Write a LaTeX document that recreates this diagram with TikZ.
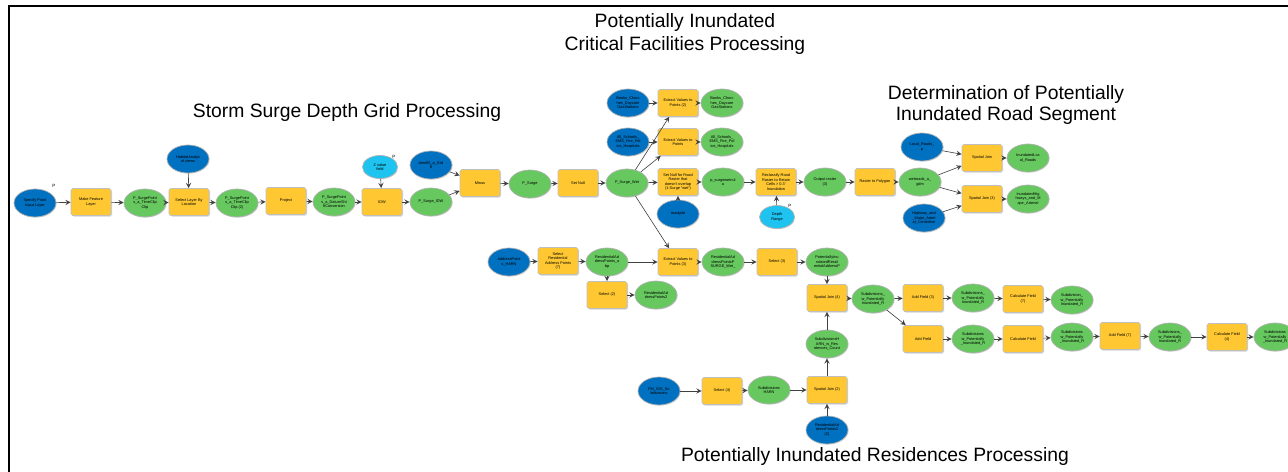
\documentclass[tikz,border=0pt]{standalone}
\usepackage{fontspec}
\setmainfont{Liberation Sans}
\usepackage{tikz}
\usetikzlibrary{shapes.geometric,shadows,positioning}
\definecolor{inblue}{RGB}{0,112,192}
\definecolor{parblue}{RGB}{30,195,240}
\definecolor{outgreen}{RGB}{102,200,95}
\definecolor{toolyellow}{RGB}{255,200,50}

\begin{document}
\begin{tikzpicture}[x=0.02cm,y=-0.02cm]
          \tikzstyle{tool} = [rectangle, rounded corners=1pt, draw=black!25, fill=toolyellow, minimum width=0.8cm, minimum height=0.54cm, inner sep=0.5pt, align=center, font=\fontsize{2.2}{2.6}\selectfont, drop shadow={shadow xshift=0.6pt, shadow yshift=-0.6pt, fill=black!35}]
          \tikzstyle{outdata} = [ellipse, draw=black!30, fill=outgreen, minimum width=0.84cm, minimum height=0.56cm, inner sep=0pt, align=center, font=\fontsize{2.2}{2.6}\selectfont, drop shadow={shadow xshift=0.4pt, shadow yshift=-0.4pt, fill=black!25}]
          \tikzstyle{indata} = [outdata, fill=inblue]
          \tikzstyle{pardata} = [outdata, fill=parblue, minimum width=0.7cm, minimum height=0.46cm]
          \tikzstyle{pmark} = [font=\fontsize{2.6}{3}\selectfont, inner sep=0pt]
          \tikzstyle{title} = [align=center, font=\fontsize{11}{13}\selectfont]
          \tikzstyle{flow} = [->, >=stealth, draw=black!75, line width=0.35pt]
        \useasboundingbox (0,0) rectangle (1288,472);
        \draw[line width=1.4pt] (9,472) -- (9,6) -- (1288,6);
        % titles
        \node[title] (t1) at (685,34) {Potentially Inundated\\Critical Facilities Processing};
        \node[title] (t2) at (347,113) {Storm Surge Depth Grid Processing};
        \node[title, font=\fontsize{11}{12}\selectfont] (t3) at (1006,105) {Determination of Potentially\\Inundated Road Segment};
        \node[title] (t4) at (875,457) {Potentially Inundated Residences Processing};
        % storm surge depth grid
        \node[indata] (a1) at (35,203) {Specify Point\\Input Layer};
        \node[pmark] (p1) at (54,186) {P};
        \node[tool] (a2) at (91,202) {Make Feature\\Layer};
        \node[outdata] (a3) at (145,203) {P\_SurgePoint\\s\_a\_TimeClip\\Clip};
        \node[indata] (a4) at (188,159) {HabitatAnalys\\of.views};
        \node[tool] (a5) at (189,202) {Select Layer By\\Location};
        \node[outdata] (a6) at (237,203) {P\_SurgePoint\\s\_a\_TimeClip\\Clip (2)};
        \node[tool] (a7) at (286,201) {Project};
        \node[outdata] (a8) at (334,202) {P\_SurgePoint\\s\_a\_DatumShi\\ftConversion};
        \node[pardata] (a9) at (380,167) {Z value\\field};
        \node[pmark] (p2) at (394,157) {P};
        \node[tool] (a10) at (382,202) {IDW};
        \node[outdata] (a11) at (431,202) {P\_Surge\_IDW};
        \node[indata] (a12) at (431,165) {dem05\_a\_Grd\\8};
        \node[tool] (a13) at (480,183) {Minus};
        \node[outdata] (a14) at (530,184) {P\_Surge};
        \node[tool] (a15) at (578,183) {Set Null};
        \node[outdata] (a16) at (627,183) {P\_Surge\_Wet};
        % critical facilities
        \node[indata] (b1) at (628,103) {Banks\_Churc\\hes\_Daycare\\GasStations};
        \node[tool] (b2) at (678,103) {Extract Values to\\Points (2)};
        \node[outdata] (b3) at (722,103) {Banks\_Churc\\hes\_Daycare\\GasStations};
        \node[indata] (b4) at (628,142) {All\_Schools\_\\EMS\_Fire\_Pol\\ice\_Hospitals};
        \node[tool] (b5) at (678,142) {Extract Values to\\Points};
        \node[outdata] (b6) at (722,142) {All\_Schools\_\\EMS\_Fire\_Pol\\ice\_Hospitals};
        % road segments
        \node[tool] (c1) at (678,182) {Set Null for Road\\Raster that\\doesn't overlap\\(1-Surge ``wet'')};
        \node[indata] (c2) at (678,214) {roadgrid};
        \node[outdata] (c3) at (723,182) {p\_surgewetnul\\a};
        \node[tool] (c4) at (776,182) {Reclassify Road\\Raster to Retain\\Cells > 0.3'\\Inundation};
        \node[pardata] (c5) at (777,217) {Depth\\Range};
        \node[pmark] (p3) at (790,206) {P};
        \node[outdata] (c6) at (825,182) {Output raster\\(3)};
        \node[tool] (c7) at (875,182) {Raster to Polygon};
        \node[outdata] (c8) at (920,182) {wetroads\_a\_\\gdm};
        \node[indata] (c9) at (922,147) {Local\_Roads\_\\p};
        \node[tool] (c10) at (982,158) {Spatial Join};
        \node[outdata] (c11) at (1028,158) {InundatedLoc\\al\_Roads};
        \node[indata] (c12) at (924,218) {Highway\_and\\\_Major\_Arteri\\al\_Centerline};
        \node[tool] (c13) at (982,199) {Spatial Join (3)};
        \node[outdata] (c14) at (1028,199) {InundatedHig\\hways\_and\_M\\ajor\_Arterial};
        % residences
        \node[indata] (d1) at (509,262) {AddressPoint\\s\_HARN};
        \node[tool] (d2) at (558,261) {Select\\Residential\\Address Points\\(7)};
        \node[outdata] (d3) at (607,262) {ResidentialAd\\dressPoints\_a\\bp};
        \node[tool] (d4) at (607,295) {Select (2)};
        \node[outdata] (d5) at (656,295) {ResidentialAd\\dressPoints2};
        \node[tool] (d6) at (678,262) {Extract Values to\\Points (3)};
        \node[outdata] (d7) at (723,262) {ResidentialAd\\dressPointsP\\SURGE\_Wet\_};
        \node[tool] (d8) at (777,262) {Select (3)};
        \node[outdata] (d9) at (827,262) {PotentiallyInu\\ndatedResid\\entialAddressP};
        \node[tool] (d10) at (827,298) {Spatial Join (4)};
        \node[outdata] (d11) at (873,299) {Subdivisions\_\\w\_Potentially\\Inundated\_R};
        \node[tool] (d12) at (923,298) {Add Field (3)};
        \node[outdata] (d13) at (973,298) {Subdivisions\_\\w\_Potentially\\Inundated\_R};
        \node[tool] (d14) at (1023,299) {Calculate Field\\(7)};
        \node[outdata] (d15) at (1072,300) {Subdivision\_\\w\_Potentially\\Inundated\_R};
        \node[tool] (d16) at (923,339) {Add Field};
        \node[outdata] (d17) at (973,339) {Subdivisions\\w\_Potentially\\\_Inundated\_R};
        \node[tool] (d18) at (1023,339) {Calculate Field};
        \node[outdata] (d19) at (1072,337) {Subdivisions\\w\_Potentially\\\_Inundated\_R};
        \node[tool] (d20) at (1120,336) {Add Field (7)};
        \node[outdata] (d21) at (1170,337) {Subdivisions\_\\w\_Potentially\\Inundated\_R};
        \node[tool] (d22) at (1227,337) {Calculate Field\\(4)};
        \node[outdata] (d23) at (1275,337) {Subdivisions\\w\_Potentially\\\_Inundated\_R};
        \node[outdata] (d24) at (827,344) {SubdivisionsH\\ARN\_w\_Res\\idences\_Count};
        \node[indata] (d25) at (659,391) {FM\_GIS\_Su\\bdivisions};
        \node[tool] (d26) at (722,391) {Select (4)};
        \node[outdata] (d27) at (769,390) {Subdivisions\\HARN};
        \node[tool] (d28) at (827,390) {Spatial Join (2)};
        \node[indata] (d29) at (827,430) {ResidentialAd\\dressPoints2\\(2)};
        \begin{scope}
          \draw[flow] (a1) -- (a2);
          \draw[flow] (a2) -- (a3);
          \draw[flow] (a3) -- (a5);
          \draw[flow] (a4) -- (a5);
          \draw[flow] (a5) -- (a6);
          \draw[flow] (a6) -- (a7);
          \draw[flow] (a7) -- (a8);
          \draw[flow] (a8) -- (a10);
          \draw[flow] (a9) -- (a10);
          \draw[flow] (a10) -- (a11);
          \draw[flow] (a11) -- (a13);
          \draw[flow] (a12) -- (a13);
          \draw[flow] (a13) -- (a14);
          \draw[flow] (a14) -- (a15);
          \draw[flow] (a15) -- (a16);
          \draw[flow] (a16) -- (b2);
          \draw[flow] (a16) -- (b5);
          \draw[flow] (a16) -- (c1);
          \draw[flow] (a16) -- (d6);
          \draw[flow] (b1) -- (b2);
          \draw[flow] (b2) -- (b3);
          \draw[flow] (b4) -- (b5);
          \draw[flow] (b5) -- (b6);
          \draw[flow] (c2) -- (c1);
          \draw[flow] (c1) -- (c3);
          \draw[flow] (c3) -- (c4);
          \draw[flow] (c5) -- (c4);
          \draw[flow] (c4) -- (c6);
          \draw[flow] (c6) -- (c7);
          \draw[flow] (c7) -- (c8);
          \draw[flow] (c8) -- (c10);
          \draw[flow] (c9) -- (c10);
          \draw[flow] (c10) -- (c11);
          \draw[flow] (c8) -- (c13);
          \draw[flow] (c12) -- (c13);
          \draw[flow] (c13) -- (c14);
          \draw[flow] (d1) -- (d2);
          \draw[flow] (d2) -- (d3);
          \draw[flow] (d3) -- (d4);
          \draw[flow] (d4) -- (d5);
          \draw[flow] (d3) -- (d6);
          \draw[flow] (d6) -- (d7);
          \draw[flow] (d7) -- (d8);
          \draw[flow] (d8) -- (d9);
          \draw[flow] (d9) -- (d10);
          \draw[flow] (d24) -- (d10);
          \draw[flow] (d10) -- (d11);
          \draw[flow] (d11) -- (d12);
          \draw[flow] (d12) -- (d13);
          \draw[flow] (d13) -- (d14);
          \draw[flow] (d14) -- (d15);
          \draw[flow] (d11) -- (d16);
          \draw[flow] (d16) -- (d17);
          \draw[flow] (d17) -- (d18);
          \draw[flow] (d18) -- (d19);
          \draw[flow] (d19) -- (d20);
          \draw[flow] (d20) -- (d21);
          \draw[flow] (d21) -- (d22);
          \draw[flow] (d22) -- (d23);
          \draw[flow] (d25) -- (d26);
          \draw[flow] (d26) -- (d27);
          \draw[flow] (d27) -- (d28);
          \draw[flow] (d29) -- (d28);
          \draw[flow] (d28) -- (d24);
        \end{scope}
      \end{tikzpicture}
\end{document}
